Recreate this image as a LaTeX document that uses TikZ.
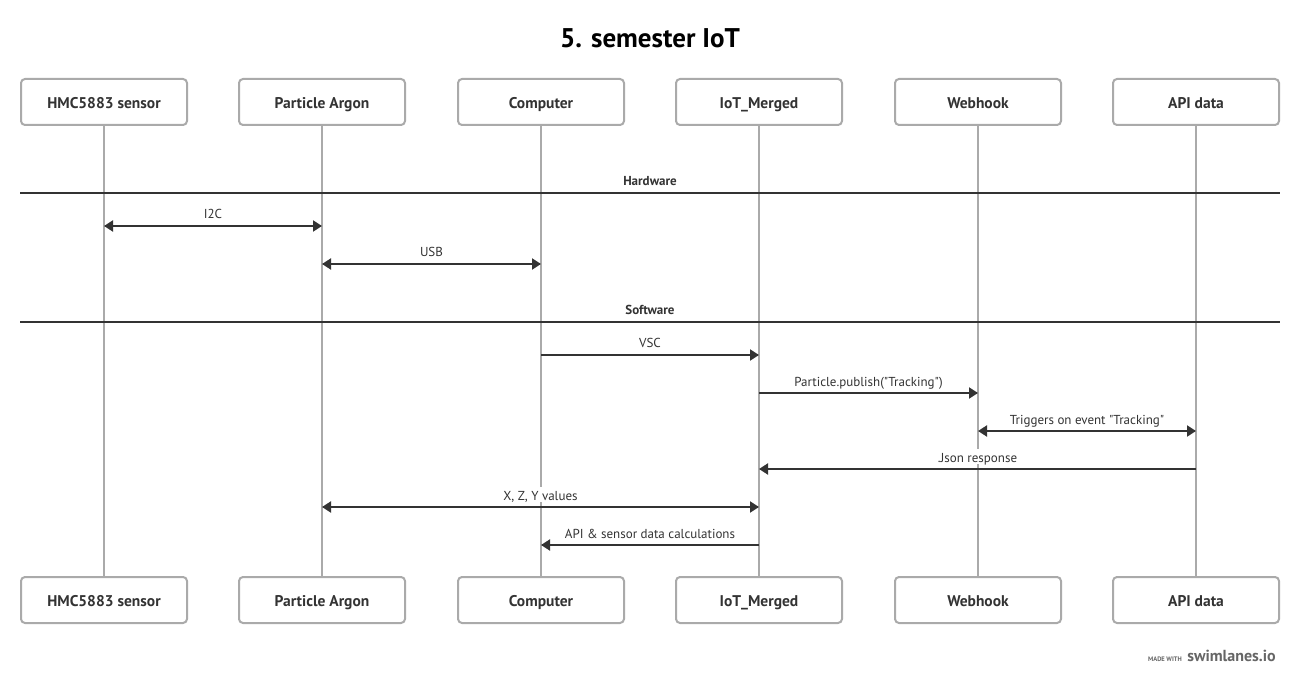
\documentclass[tikz,border=0pt]{standalone}
\usepackage{fontspec}
\newfontfamily\ptsans{PT Sans}
\usetikzlibrary{arrows.meta}
\definecolor{ink}{HTML}{333333}
\definecolor{life}{HTML}{AAAAAA}
\begin{document}
\begin{tikzpicture}[x=1pt,y=-1pt,
  actor/.style={draw=life,line width=2pt,rounded corners=4pt,minimum width=166pt,minimum height=46pt,text height=13pt,text depth=0pt,font=\ptsans\fontsize{15.5}{18}\selectfont\bfseries,text=ink,fill=white},
  lifeline/.style={draw=life,line width=2pt},
  msg/.style={draw=ink,line width=2pt,-{Triangle[length=9pt,width=11pt]}},
  bimsg/.style={draw=ink,line width=2pt,{Triangle[length=9pt,width=11pt]}-{Triangle[length=9pt,width=11pt]}},
  lbl/.style={fill=white,inner sep=1.5pt,text height=12pt,text depth=0pt,font=\ptsans\fontsize{13}{15}\selectfont,text=ink},
  sep/.style={draw=ink,line width=2pt},
  seplbl/.style={text height=11pt,text depth=0pt,font=\ptsans\fontsize{13}{15}\selectfont\bfseries,text=ink}]
\useasboundingbox (0,0) rectangle (1300,684);
\fill[white] (0,0) rectangle (1300,684);
\node[font=\ptsans\fontsize{27}{32}\selectfont\bfseries,text=black] (title) at (650,38) {5. semester IoT};
% actors
\foreach \i/\x/\t in {1/104/HMC5883 sensor,2/322/Particle Argon,3/541/Computer,4/759/IoT\_Merged,5/978/Webhook,6/1196/API data}{
  \node[actor] (t\i) at (\x,102) {\t};
  \node[actor] (b\i) at (\x,600) {\t};
  \draw[lifeline] (t\i.south) -- (b\i.north);
}
% separators
\coordinate (sl) at (20,193); \coordinate (sr) at (1280,193);
\draw[sep] (sl) -- (sr);
\node[seplbl] (hw) at (650,180) {Hardware};
\coordinate (sl2) at (20,322); \coordinate (sr2) at (1280,322);
\draw[sep] (sl2) -- (sr2);
\node[seplbl] (swl) at (650,309) {Software};
% message labels
\node[lbl] (m1) at (213,213) {I2C};
\node[lbl] (m2) at (431.5,251) {USB};
\node[lbl] (m3) at (650,342) {VSC};
\node[lbl] (m4) at (868.5,380) {Particle.publish("Tracking")};
\node[lbl] (m5) at (1087,418) {Triggers on event "Tracking"};
\node[lbl] (m6) at (977.5,456) {.Json response};
\node[lbl] (m7) at (540.5,494) {X, Z, Y values};
\node[lbl] (m8) at (650,532) {API \& sensor data calculations};
% messages
\draw[bimsg] (t1 |- 0,226) -- (t2 |- 0,226);
\draw[bimsg] (t2 |- 0,264) -- (t3 |- 0,264);
\draw[msg] (t3 |- 0,355) -- (t4 |- 0,355);
\draw[msg] (t4 |- 0,393) -- (t5 |- 0,393);
\draw[bimsg] (t5 |- 0,431) -- (t6 |- 0,431);
\draw[msg] (t6 |- 0,469) -- (t4 |- 0,469);
\draw[bimsg] (t2 |- 0,507) -- (t4 |- 0,507);
\draw[msg] (t4 |- 0,545) -- (t3 |- 0,545);
% footer
\node[anchor=base east,inner sep=0pt,font=\ptsans\fontsize{16}{18}\selectfont\bfseries,text=black!60] (brand) at (1276,661) {swimlanes.io};
\node[anchor=base east,inner sep=0pt,font=\ptsans\fontsize{6.5}{8}\selectfont\bfseries,text=black!60] (made) at ([xshift=-5pt]brand.base west) {MADE WITH};
\end{tikzpicture}
\end{document}
